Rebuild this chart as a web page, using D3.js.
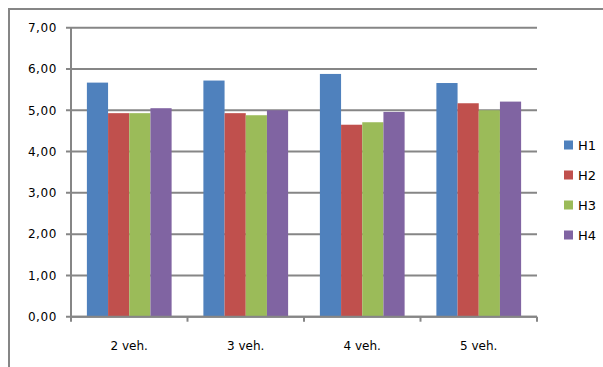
<!DOCTYPE html>
<html>
<head>
<meta charset="utf-8">
<script src="https://cdn.jsdelivr.net/npm/d3@7"></script>
<style>
  body { margin: 0; background: #fff; }
  text { font-family: "DejaVu Sans", Verdana, sans-serif; fill: #000; }
</style>
</head>
<body>
<script>
// data
var categories = ["2 veh.", "3 veh.", "4 veh.", "5 veh."];
var seriesNames = ["H1", "H2", "H3", "H4"];
var H1 = [5.67, 5.72, 5.88, 5.66];
var H2 = [4.93, 4.93, 4.65, 5.17];
var H3 = [4.93, 4.88, 4.71, 5.00];
var H4 = [5.05, 5.00, 4.96, 5.21];
var yTicks = [0, 1, 2, 3, 4, 5, 6, 7];
var colors = ["#4F81BD", "#C0504D", "#9BBB59", "#8064A2"];

var series = [H1, H2, H3, H4];
var gridColor = "#868686";

var svg = d3.select("body").append("svg")
    .attr("width", 603)
    .attr("height", 367);

// outer chart border
svg.append("rect")
    .attr("x", 9).attr("y", 9)
    .attr("width", 700).attr("height", 500)
    .attr("fill", "none")
    .attr("stroke", gridColor)
    .attr("stroke-width", 2);

var plotLeft = 71, plotRight = 537, plotTop = 27.7, plotBottom = 316.7;

var x = d3.scaleBand().domain(categories).range([plotLeft, plotRight]);
var y = d3.scaleLinear().domain([0, 7]).range([plotBottom, plotTop]);

// gridlines + y ticks
svg.selectAll(".grid")
    .data(yTicks)
    .enter().append("line")
    .attr("x1", plotLeft - 5).attr("x2", plotRight)
    .attr("y1", function(d) { return y(d); })
    .attr("y2", function(d) { return y(d); })
    .attr("stroke", gridColor)
    .attr("stroke-width", 2);

svg.selectAll(".ylab")
    .data(yTicks)
    .enter().append("text")
    .attr("x", 57)
    .attr("y", function(d) { return y(d); })
    .attr("dy", "0.36em")
    .attr("text-anchor", "end")
    .attr("font-size", "12px")
    .attr("letter-spacing", "0.6px")
    .text(function(d) { return d.toFixed(2).replace(".", ","); });

// y axis line
svg.append("line")
    .attr("x1", plotLeft).attr("x2", plotLeft)
    .attr("y1", plotTop).attr("y2", plotBottom)
    .attr("stroke", gridColor).attr("stroke-width", 2);

// bars
var step = x.bandwidth();
var barW = step / 5.5;
var offset = (step - barW * 4) / 2;

for (let s = 0; s < series.length; s++) {
    svg.selectAll(".bar" + s)
        .data(series[s])
        .enter().append("rect")
        .attr("x", function(d, i) { return x(categories[i]) + offset + s * barW; })
        .attr("y", function(d) { return y(d); })
        .attr("width", barW)
        .attr("height", function(d) { return plotBottom - y(d); })
        .attr("fill", colors[s]);
}

// x axis line and ticks
svg.append("line")
    .attr("x1", plotLeft).attr("x2", plotRight)
    .attr("y1", plotBottom).attr("y2", plotBottom)
    .attr("stroke", gridColor).attr("stroke-width", 2);

var xTickPos = categories.map(function(c) { return x(c); }).concat([plotRight]);
svg.selectAll(".xtick")
    .data(xTickPos)
    .enter().append("line")
    .attr("x1", function(d) { return d; })
    .attr("x2", function(d) { return d; })
    .attr("y1", plotBottom).attr("y2", plotBottom + 5)
    .attr("stroke", gridColor).attr("stroke-width", 2);

svg.selectAll(".xlab")
    .data(categories)
    .enter().append("text")
    .attr("x", function(d) { return x(d) + step / 2; })
    .attr("y", 346)
    .attr("dy", "0.36em")
    .attr("text-anchor", "middle")
    .attr("font-size", "12px")
    .text(function(d) { return d; });

// legend
var legend = svg.selectAll(".legend")
    .data(seriesNames)
    .enter().append("g")
    .attr("transform", function(d, i) { return "translate(564," + (145 + i * 30) + ")"; });

legend.append("rect")
    .attr("x", 0).attr("y", -4.5)
    .attr("width", 9).attr("height", 9)
    .attr("fill", function(d, i) { return colors[i]; });

legend.append("text")
    .attr("x", 14)
    .attr("y", 0)
    .attr("dy", "0.36em")
    .attr("font-size", "13px")
    .text(function(d) { return d; });
</script>
</body>
</html>
